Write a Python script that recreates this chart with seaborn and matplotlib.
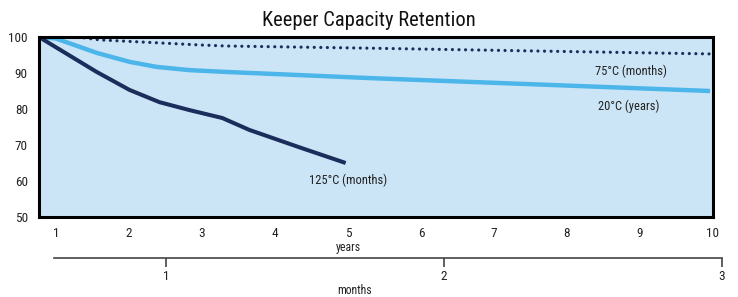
import matplotlib
matplotlib.use("Agg")
import matplotlib.pyplot as plt
import seaborn as sns
import pandas as pd

# values (x in years, y in % capacity)
years_125 = [0.77, 1.56, 2.01, 2.42, 2.83, 3.28, 3.65, 4.33, 4.97]
cap_125 = [100, 90.3, 85.3, 81.9, 79.7, 77.5, 74.2, 69.4, 65.0]

years_20 = [0.77, 1.0, 1.56, 2.01, 2.38, 2.83, 3.33, 5.28, 9.96]
cap_20 = [100, 99.6, 95.6, 93.1, 91.7, 90.8, 90.3, 88.6, 85.0]

years_75 = [1.3, 1.6, 2.96, 3.33, 5.28, 9.96]
cap_75 = [100, 99.2, 97.8, 97.5, 96.9, 95.3]

year_ticks = [1, 2, 3, 4, 5, 6, 7, 8, 9, 10]
month_ticks = [1, 2, 3]
y_ticks = [50, 60, 70, 80, 90, 100]

navy = "#1b2d5b"
sky = "#4cb6ea"
bg = "#cce5f6"

sns.set_style("white")
plt.rcParams["font.family"] = ["Liberation Sans Narrow", "Roboto Condensed", "Roboto", "DejaVu Sans"]

fig = plt.figure(figsize=(7.38, 2.97), dpi=100)
ax = fig.add_axes([0.0528, 0.2694, 0.9133, 0.606])
ax.set_facecolor(bg)

df125 = pd.DataFrame({"yr": years_125, "cap": cap_125})
df20 = pd.DataFrame({"yr": years_20, "cap": cap_20})
df75 = pd.DataFrame({"yr": years_75, "cap": cap_75})

sns.lineplot(data=df20, x="yr", y="cap", ax=ax, color=sky, lw=3.2, solid_capstyle="butt")
sns.lineplot(data=df125, x="yr", y="cap", ax=ax, color=navy, lw=2.9, solid_capstyle="butt")
sns.lineplot(data=df75, x="yr", y="cap", ax=ax, color=navy, lw=2.3,
             linestyle=(0, (0.01, 2.05)), dash_capstyle="round")

ax.set_xlim(0.77, 10)
ax.set_ylim(50, 100)
ax.set_xticks(year_ticks)
ax.set_yticks(y_ticks)
ax.tick_params(axis="both", length=0, labelsize=9.5, colors="#222222")
ax.tick_params(axis="x", pad=7)
ax.tick_params(axis="y", pad=8)
for s in ax.spines.values():
    s.set_visible(True)
    s.set_color("black")
    s.set_linewidth(2.2)
ax.set_xlabel("")
ax.set_ylabel("")

ax.text(8.87, 90.6, "75°C (months)", fontsize=9, color="#222222", ha="center", va="center")
ax.text(8.84, 80.8, "20°C (years)", fontsize=9, color="#222222", ha="center", va="center")
ax.text(5.0, 60.3, "125°C (months)", fontsize=9, color="#222222", ha="center", va="center")

fig.text(0.4715, 1 - 248 / 297, "years", fontsize=8.5, color="#222222", ha="center", va="center")
fig.text(0.5, 1 - 20 / 297, "Keeper Capacity Retention", fontsize=14.8, color="#111111",
         ha="center", va="center")

# months axis underneath
ax2 = fig.add_axes([54 / 738, 1 - 258 / 297, 668 / 738, 0.01])
ax2.set_facecolor("none")
ax2.set_xlim(0.597, 3)
ax2.set_xticks(month_ticks)
ax2.set_yticks([])
for k in ["top", "left", "right"]:
    ax2.spines[k].set_visible(False)
ax2.spines["bottom"].set_color("#444444")
ax2.spines["bottom"].set_linewidth(1.2)
ax2.tick_params(axis="x", direction="out", length=6.5, width=1.2, color="#444444",
                labelsize=9.5, labelcolor="#222222", pad=2, bottom=True)
fig.text(355 / 738, 1 - 291 / 297, "months", fontsize=8.5, color="#222222", ha="center", va="center")

fig.savefig("out.png", dpi=100)
